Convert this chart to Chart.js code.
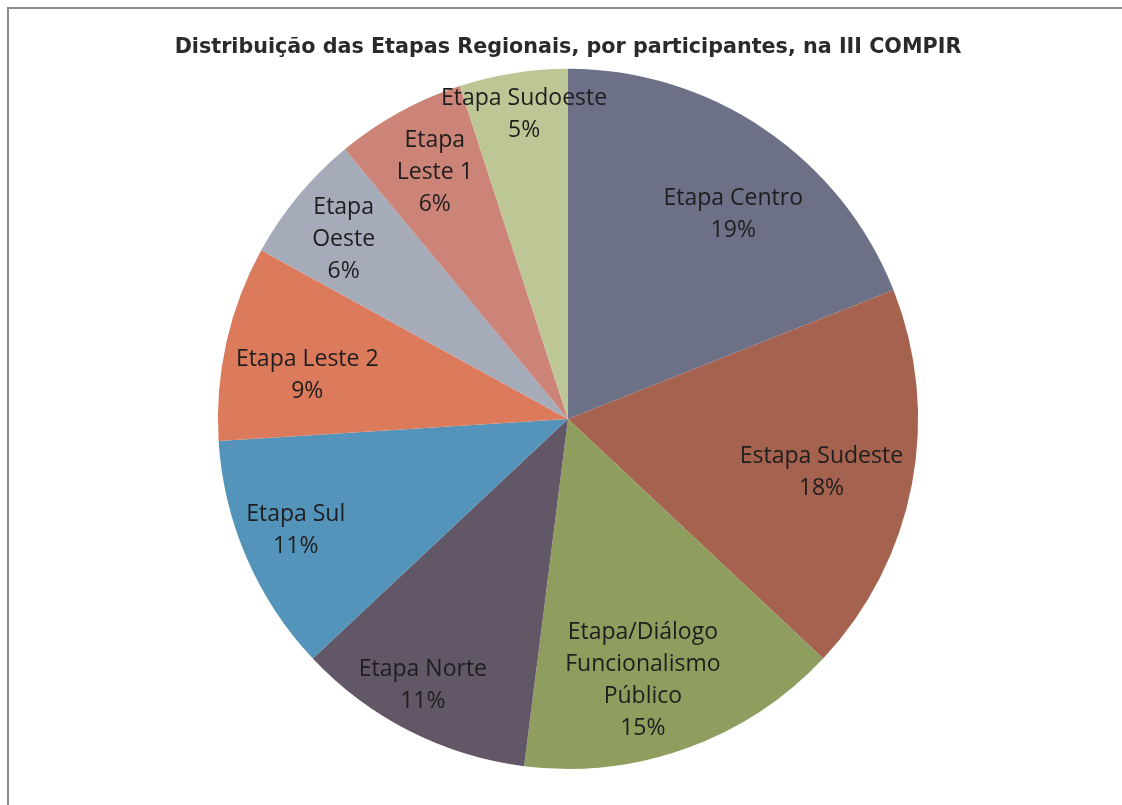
<!DOCTYPE html>
<html>
<head>
<meta charset="utf-8">
<script src="https://cdn.jsdelivr.net/npm/chart.js@4.4.1/dist/chart.umd.min.js"></script>
<style>
  html, body { margin: 0; padding: 0; background: #fff; }
  #wrap { width: 1122px; height: 805px; }
</style>
</head>
<body>
<div id="wrap"><canvas id="myChart" width="1122" height="805"></canvas></div>
<script>
// data (percent of participants)
var etapas = [
    ['Etapa Centro'],
    ['Estapa Sudeste'],
    ['Etapa/Diálogo', 'Funcionalismo', 'Público'],
    ['Etapa Norte'],
    ['Etapa Sul'],
    ['Etapa Leste 2'],
    ['Etapa', 'Oeste'],
    ['Etapa', 'Leste 1'],
    ['Etapa Sudoeste']
];
var participantes = [19, 18, 15, 11, 11, 9, 6, 6, 5];
var cores = ['#6d7187', '#a4624f', '#8f9e5f', '#625766', '#5594ba',
             '#dc7a5c', '#a6abba', '#cd8478', '#bdc796'];
var titulo = 'Distribuição das Etapas Regionais, por participantes, na III COMPIR';

// label placement (excel "best fit"): fraction of radius, and a small turn in degrees
var labelDist = [0.75, 0.74, 0.776, 0.866, 0.84, 0.755, 0.82, 0.80, 0.88];
var labelTurn = [4.8, 1.2, 3.8, 1.6, 1.2, -3.2, -1, 0.4, 0.8];

// frame lines like the scanned page
const frame = {
    id: 'frame',
    beforeDraw(chart) {
        const c = chart.ctx;
        c.save();
        c.fillStyle = '#ffffff';
        c.fillRect(0, 0, chart.width, chart.height);
        c.strokeStyle = '#8a8a8a';
        c.lineWidth = 2;
        c.beginPath();
        c.moveTo(8, chart.height);
        c.lineTo(8, 8);
        c.lineTo(chart.width, 8);
        c.stroke();
        c.restore();
    }
};

// slice labels: name + percent, centred on the slice
const sliceLabels = {
    id: 'sliceLabels',
    afterDatasetsDraw(chart) {
        const c = chart.ctx;
        const meta = chart.getDatasetMeta(0);
        const total = participantes.reduce(function (a, b) { return a + b; }, 0);
        c.save();
        c.font = '23px "Open Sans"';
        c.fillStyle = '#1e1e1e';
        c.textAlign = 'center';
        c.textBaseline = 'middle';
        meta.data.forEach(function (arc, i) {
            const p = arc.getProps(['x', 'y', 'startAngle', 'endAngle', 'outerRadius']);
            const mid = (p.startAngle + p.endAngle) / 2 + labelTurn[i] * Math.PI / 180;
            const r = p.outerRadius * labelDist[i];
            const x = p.x + Math.cos(mid) * r;
            const y = p.y + Math.sin(mid) * r;
            const lines = etapas[i].concat([Math.round(participantes[i] / total * 100) + '%']);
            const lh = 32;
            const y0 = y - (lines.length - 1) * lh / 2;
            lines.forEach(function (t, k) {
                c.fillText(t, x, y0 + k * lh);
            });
        });
        c.restore();
    }
};

const ctx = document.getElementById('myChart');

const data = {
    labels: etapas,
    datasets: [
        {
            data: participantes,
            backgroundColor: cores,
            borderWidth: 0,
        },
    ],
};

const config = {
    type: 'pie',
    data: data,
    options: {
        responsive: false,
        animation: false,
        layout: {
            padding: { top: 0, bottom: 36, left: 14, right: 0 }
        },
        plugins: {
            legend: { display: false },
            tooltip: { enabled: false },
            title: {
                display: true,
                text: titulo,
                color: '#2a2a2a',
                font: { family: '"DejaVu Sans"', size: 20.7, weight: 'bold' },
                padding: { top: 35, bottom: 9 }
            }
        }
    },
    plugins: [frame, sliceLabels]
};
var myChart = new Chart(ctx, config);
</script>
</body>
</html>
